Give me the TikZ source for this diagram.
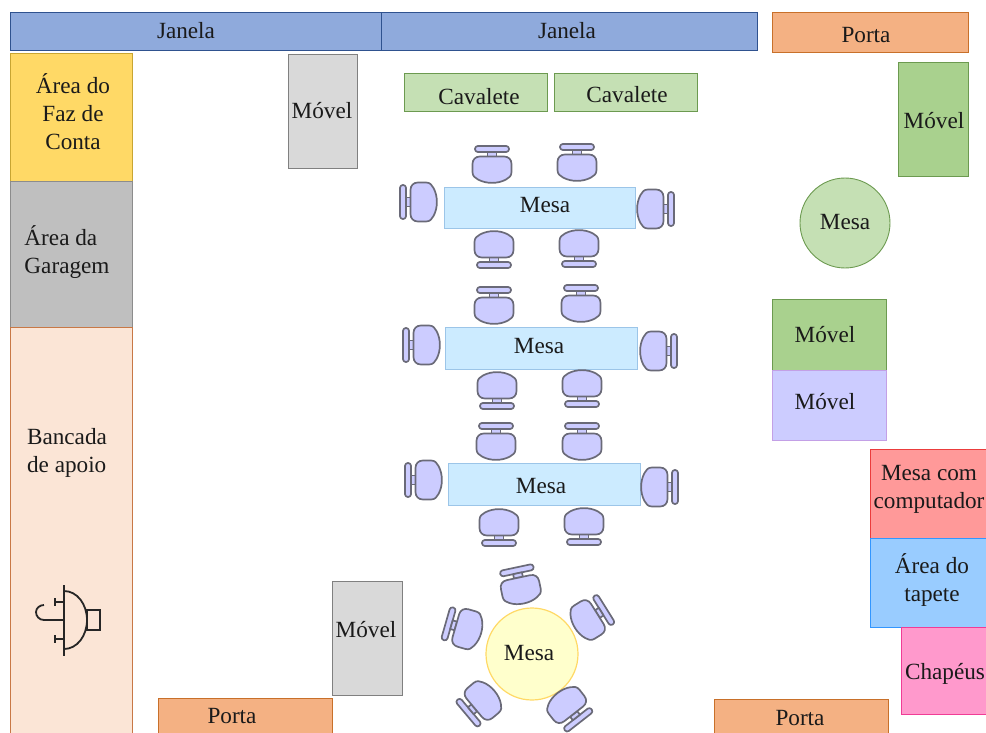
\documentclass[tikz,border=0pt]{standalone}
\usepackage{fontspec}
\setmainfont{Liberation Serif}
\definecolor{txt}{HTML}{1A1A1A}
\tikzset{
  lab/.style={inner sep=0pt,align=center,text=txt,font=\fontsize{23.2}{28}\selectfont},
  labl/.style={lab,align=left},
  room/.style={line width=0.9pt},
  win/.style={room,fill=HTMLa,draw=HTMLb},
  sink/.style={line width=1.8pt,draw=black!85},
  chairline/.style={draw=chairedge,fill=chairfill,line width=1.7pt,line join=round},
  chair/.pic={
    \path[chairline,rounded corners=2.8pt] (-17,-18) rectangle (17,-12);
    \path[chairline] (-4.5,-12) rectangle (4.5,-7.5);
    \path[chairline] (-12,-7.5) -- (12,-7.5) .. controls (16.5,-7.5) and (19.5,-4.5) .. (19.5,0)
      -- (19.5,8) .. controls (19.5,12) and (17,14) .. (14,15.5)
      .. controls (6,20) and (-6,20) .. (-14,15.5)
      .. controls (-17,14) and (-19.5,12) .. (-19.5,8) -- (-19.5,0)
      .. controls (-19.5,-4.5) and (-16.5,-7.5) .. (-12,-7.5) -- cycle;
  }
}
\definecolor{HTMLa}{HTML}{8FAADC}
\definecolor{HTMLb}{HTML}{2F528F}
\definecolor{chairfill}{HTML}{CCCCFF}
\definecolor{chairedge}{HTML}{6A6A78}
\definecolor{doorf}{HTML}{F4B183}\definecolor{doord}{HTML}{C8702A}
\definecolor{greenf}{HTML}{C5E0B4}\definecolor{greend}{HTML}{6C9A50}
\definecolor{dgreenf}{HTML}{A9D18E}
\definecolor{greyf}{HTML}{D9D9D9}\definecolor{greyd}{HTML}{808080}
\definecolor{tablef}{HTML}{CCEBFF}\definecolor{tabled}{HTML}{9CC5E8}
\begin{document}
\begin{tikzpicture}[x=1pt,y=-1pt]
\useasboundingbox (0,0) rectangle (986,733);
\clip (0,0) rectangle (986,733);
% windows and doors
\draw[win] (10,12) rectangle (381,50);
\draw[win] (381,12) rectangle (757,50);
\draw[room,fill=doorf,draw=doord] (772,12) rectangle (968,52);
\draw[room,fill=doorf,draw=doord] (158,698) rectangle (332,740);
\draw[room,fill=doorf,draw=doord] (714,699) rectangle (888,740);
% left areas
\draw[room,fill={rgb,255:red,255;green,217;blue,102},draw={rgb,255:red,200;green,165;blue,50}] (10,53) rectangle (132,181);
\draw[room,fill={rgb,255:red,191;green,191;blue,191},draw={rgb,255:red,140;green,140;blue,140}] (10,181) rectangle (132,327);
\draw[room,fill={rgb,255:red,251;green,229;blue,214},draw={rgb,255:red,200;green,120;blue,70}] (10,327) rectangle (132,740);
% furniture
\draw[room,fill=greyf,draw=greyd] (288,54) rectangle (357,168);
\draw[room,fill=greyf,draw=greyd] (332,581) rectangle (402,695);
\draw[room,fill=greenf,draw=greend] (404,73) rectangle (547,111);
\draw[room,fill=greenf,draw=greend] (554,73) rectangle (697,111);
\draw[room,fill=dgreenf,draw=greend] (898,62) rectangle (968,176);
\draw[room,fill=greenf,draw=greend] (845,223) circle[radius=45];
\draw[room,fill=dgreenf,draw=greend] (772,299) rectangle (886,370);
\draw[room,fill=chairfill,draw={rgb,255:red,195;green,160;blue,230}] (772,370) rectangle (886,440);
\draw[room,fill={rgb,255:red,255;green,153;blue,153},draw={rgb,255:red,235;green,60;blue,60}] (870,449) rectangle (990,538);
\draw[room,fill={rgb,255:red,153;green,204;blue,255},draw={rgb,255:red,50;green,150;blue,255}] (870,538) rectangle (990,627);
\draw[room,fill={rgb,255:red,255;green,153;blue,204},draw={rgb,255:red,240;green,60;blue,150}] (901,627) rectangle (990,714);
% tables
\draw[room,fill=tablef,draw=tabled] (444,187) rectangle (635,228);
\draw[room,fill=tablef,draw=tabled] (445,327) rectangle (637,369);
\draw[room,fill=tablef,draw=tabled] (448,463) rectangle (640,505);
\draw[room,line width=1.2pt,fill={rgb,255:red,255;green,255;blue,204},draw={rgb,255:red,255;green,217;blue,102}] (532,654) circle[radius=46];
% chairs, table 1
\pic at (492,164) {chair};
\pic at (577,162) {chair};
\pic[rotate=180] at (494,250) {chair};
\pic[rotate=180] at (579,249) {chair};
\pic[rotate=90] at (418,202) {chair};
\pic[rotate=-90] at (656,209) {chair};
% chairs, table 2
\pic at (494,305) {chair};
\pic at (581,303) {chair};
\pic[rotate=180] at (497,391) {chair};
\pic[rotate=180] at (582,389) {chair};
\pic[rotate=90] at (421,345) {chair};
\pic[rotate=-90] at (659,351) {chair};
% chairs, table 3
\pic at (496,441) {chair};
\pic at (582,441) {chair};
\pic[rotate=180] at (499,528) {chair};
\pic[rotate=180] at (584,527) {chair};
\pic[rotate=90] at (423,480) {chair};
\pic[rotate=-90] at (660,487) {chair};
% chairs, round table
\pic[rotate=12] at (520,585) {chair};
\pic[rotate=-58] at (591,618) {chair};
\pic[rotate=-142] at (569,708) {chair};
\pic[rotate=130] at (480,703) {chair};
\pic[rotate=74] at (463,628) {chair};
% sink symbol
\draw[sink] (64,585) -- (64,656);
\draw[sink] (64,591) .. controls (77,591) and (87,604) .. (87,620) .. controls (87,636) and (77,649) .. (64,649);
\draw[sink] (87,610) rectangle (100,630);
\draw[sink] (64,602) -- (55,602) (55,598) -- (55,606);
\draw[sink] (64,639) -- (55,639) (55,635) -- (55,643);
\draw[sink] (64,620) -- (44,620) .. controls (39,620) and (36,616) .. (36,612) .. controls (36,608) and (40,605) .. (44,605);
% texts
\node[lab] (j1) at (186,31) {Janela};
\node[lab] (j2) at (567,31) {Janela};
\node[lab] (p1) at (866,35) {Porta};
\node[lab] (p2) at (232,716) {Porta};
\node[lab] (p3) at (800,718) {Porta};
\node[lab] (a1) at (73,112) {Área do\\Faz de\\Conta};
\node[labl] (a2) at (67,252) {Área da\\Garagem};
\node[labl] (a3) at (67,453) {Bancada\\de apoio};
\node[lab] (m1) at (322,111) {Móvel};
\node[lab] (m2) at (366,630) {Móvel};
\node[lab] (m3) at (934,121) {Móvel};
\node[lab] (m4) at (825,335) {Móvel};
\node[lab] (m5) at (825,402) {Móvel};
\node[lab] (c1) at (479,97) {Cavalete};
\node[lab] (c2) at (627,95) {Cavalete};
\node[lab] (t1) at (545,205) {Mesa};
\node[lab] (t2) at (539,346) {Mesa};
\node[lab] (t3) at (541,486) {Mesa};
\node[lab] (t4) at (529,653) {Mesa};
\node[lab] (t5) at (845,222) {Mesa};
\node[lab] (r1) at (929,489) {Mesa com\\computador};
\node[lab] (r2) at (932,580) {Área do\\tapete};
\node[lab] (r3) at (945,674) {Chapéus};
\end{tikzpicture}
\end{document}
